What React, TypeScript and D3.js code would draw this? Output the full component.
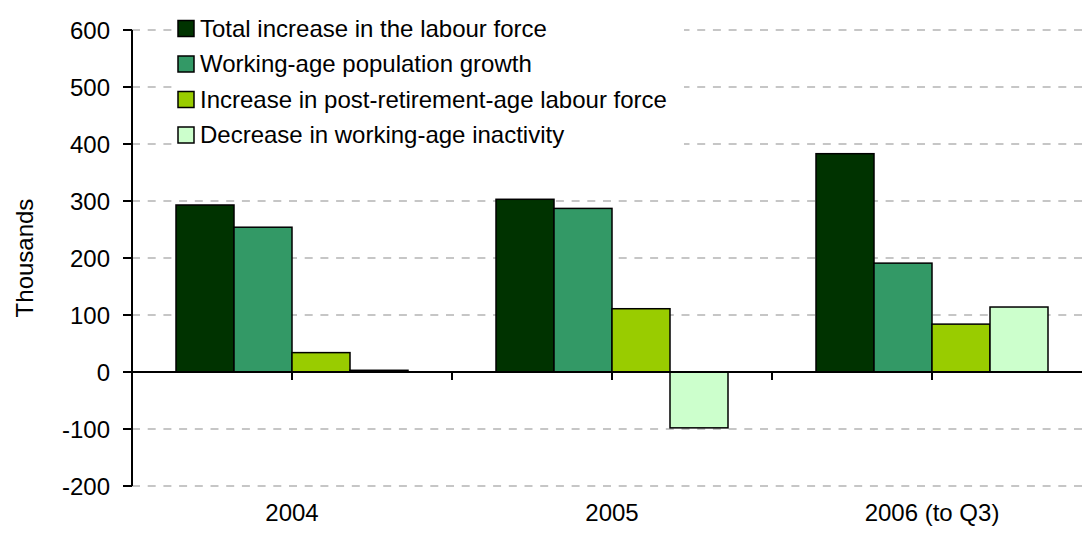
import React from "react";
import * as d3 from "d3";

const categories = ["2004", "2005", "2006 (to Q3)"];
const seriesNames = [
  "Total increase in the labour force",
  "Working-age population growth",
  "Increase in post-retirement-age labour force",
  "Decrease in working-age inactivity",
];
const totalIncrease = [293, 303, 383];
const workingAgePopulation = [254, 287, 191];
const postRetirement = [34, 111, 84];
const inactivityDecrease = [3, -98, 114];
const yTicks = [-200, -100, 0, 100, 200, 300, 400, 500, 600];
const yLabel = "Thousands";

const seriesValues = [totalIncrease, workingAgePopulation, postRetirement, inactivityDecrease];
const colors = ["#003300", "#339966", "#99CC00", "#CCFFCC"];

const W = 1082;
const H = 534;
const FONT = "'Liberation Sans', Arial, Helvetica, sans-serif";

export default function App() {
  const plotLeft = 132;
  const plotRight = 1092;
  const y = d3.scaleLinear().domain([-200, 600]).range([486, 30]);
  const x0 = d3
    .scaleBand<string>()
    .domain(categories)
    .range([plotLeft, plotRight])
    .paddingInner(0.275)
    .paddingOuter(0.1375);
  const x1 = d3
    .scaleBand<number>()
    .domain(d3.range(seriesNames.length))
    .range([0, x0.bandwidth()]);
  const step = x0.step();
  const xTicks = d3.range(0, categories.length * 2 + 1).map((k) => plotLeft + (k * step) / 2);
  const zeroY = y(0);

  return (
    <svg
      width={W}
      height={H}
      style={{ position: "absolute", left: 0, top: 0, display: "block", background: "#fff" }}
      fontFamily={FONT}
    >
      <rect x={0} y={0} width={W} height={H} fill="#fff" />
      {/* gridlines */}
      {yTicks
        .filter((t) => t !== 0)
        .map((t) => (
          <line
            key={"g" + t}
            x1={plotLeft}
            x2={W}
            y1={y(t)}
            y2={y(t)}
            stroke="#b4b4b4"
            strokeWidth={1.5}
            strokeDasharray="8 7.7"
          />
        ))}
      {/* legend background */}
      <rect x={172} y={8} width={512} height={150} fill="#fff" />
      {/* bars */}
      {categories.map((c, ci) => (
        <g key={c}>
          {seriesValues.map((vals, si) => {
            const v = vals[ci];
            const bx = (x0(c) as number) + (x1(si) as number);
            const top = Math.min(y(v), zeroY);
            const h = Math.abs(y(v) - zeroY);
            return (
              <rect
                key={si}
                x={bx}
                y={top}
                width={x1.bandwidth()}
                height={h}
                fill={colors[si]}
                stroke="#000"
                strokeWidth={1.5}
              />
            );
          })}
        </g>
      ))}
      {/* y axis */}
      <line x1={plotLeft} x2={plotLeft} y1={y(600)} y2={y(-200)} stroke="#000" strokeWidth={2} />
      {yTicks.map((t) => (
        <g key={"t" + t}>
          <line x1={plotLeft - 9} x2={plotLeft} y1={y(t)} y2={y(t)} stroke="#000" strokeWidth={2} />
          <text x={110} y={y(t) + 8.5} textAnchor="end" fontSize={24} fill="#000">
            {t}
          </text>
        </g>
      ))}
      {/* x axis */}
      <line x1={plotLeft} x2={W} y1={zeroY} y2={zeroY} stroke="#000" strokeWidth={2} />
      {xTicks.map((tx, i) => (
        <line key={"xt" + i} x1={tx} x2={tx} y1={zeroY} y2={zeroY + 8} stroke="#000" strokeWidth={2} />
      ))}
      {categories.map((c) => (
        <text
          key={"xl" + c}
          x={(x0(c) as number) + x0.bandwidth() / 2}
          y={521}
          textAnchor="middle"
          fontSize={24}
          fill="#000"
        >
          {c}
        </text>
      ))}
      {/* y label */}
      <text
        transform={`translate(33, ${(y(600) + y(-200)) / 2}) rotate(-90)`}
        textAnchor="middle"
        fontSize={24}
        fill="#000"
      >
        {yLabel}
      </text>
      {/* legend */}
      {seriesNames.map((name, i) => {
        const cy = 28.5 + i * 35.5;
        return (
          <g key={"lg" + i}>
            <rect x={178} y={cy - 8} width={16} height={16} fill={colors[i]} stroke="#000" strokeWidth={1.5} />
            <text x={200} y={cy + 8} fontSize={24} fill="#000">
              {name}
            </text>
          </g>
        );
      })}
    </svg>
  );
}
